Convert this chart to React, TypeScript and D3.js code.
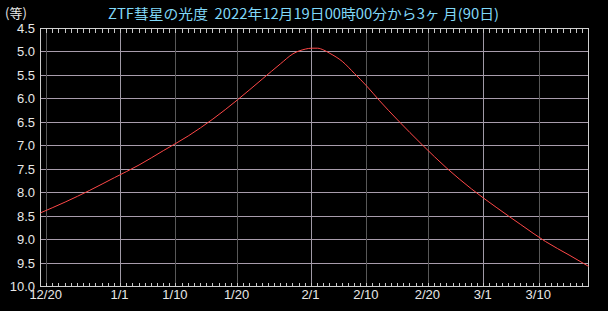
import React from "react";
import * as d3 from "d3";

const titleText = "ZTF彗星の光度  2022年12月19日00時00分から3ヶ 月(90日)";
const unitLabel = "(等)";
const startDate = new Date(2022, 11, 19);
const endDate = new Date(2023, 2, 18);

const days = [0, 4, 8, 12, 16, 20, 24, 28, 32, 36, 39, 41, 43, 44, 45, 46, 47, 49, 51, 53, 55, 58, 62, 66, 70, 74, 78, 82, 86, 89];
const mags = [8.43, 8.2, 7.95, 7.68, 7.41, 7.1, 6.79, 6.43, 6.02, 5.58, 5.25, 5.04, 4.94, 4.92, 4.92, 4.96, 5.03, 5.2, 5.46, 5.73, 6.03, 6.45, 6.98, 7.48, 7.92, 8.31, 8.68, 9.04, 9.34, 9.57];

const yTicks = [4.5, 5.0, 5.5, 6.0, 6.5, 7.0, 7.5, 8.0, 8.5, 9.0, 9.5, 10.0];
const xTickLabels = ["12/20", "1/1", "1/10", "1/20", "2/1", "2/10", "2/20", "3/1", "3/10"];
const xTickDates = [
  new Date(2022, 11, 20),
  new Date(2023, 0, 1),
  new Date(2023, 0, 10),
  new Date(2023, 0, 20),
  new Date(2023, 1, 1),
  new Date(2023, 1, 10),
  new Date(2023, 1, 20),
  new Date(2023, 2, 1),
  new Date(2023, 2, 10),
];

const W = 608;
const H = 311;
const L = 40.5, R = 588.5, T = 28.5, B = 286.5;

export default function App() {
  const x = d3.scaleTime().domain([startDate, endDate]).range([L, R]);
  const y = d3.scaleLinear().domain([4.5, 10]).range([T, B]);
  const snap = (v: number) => Math.round(v - 0.5) + 0.5;

  const pts = days.map((d, i) => ({ date: d3.timeDay.offset(startDate, d), m: mags[i] }));
  const line = d3
    .line<{ date: Date; m: number }>()
    .x((p) => x(p.date))
    .y((p) => y(p.m))
    .curve(d3.curveMonotoneX);

  const dayTicks = d3.timeDay.range(d3.timeDay.offset(startDate, 1), endDate);

  const labelFont = "'Liberation Sans', Arial, sans-serif";

  return (
    <div style={{ position: "fixed", left: 0, top: 0, width: W, height: H, background: "#000" }}>
      <svg width={W} height={H} style={{ display: "block", background: "#000" }}>
        <rect x={0} y={0} width={W} height={H} fill="#000" />
        {yTicks.slice(1, -1).map((t) => (
          <line key={"h" + t} x1={L} x2={R} y1={snap(y(t))} y2={snap(y(t))} stroke="#a89cac" strokeWidth={1} shapeRendering="crispEdges" />
        ))}
        {xTickDates.map((d, i) => (
          <line
            key={"v" + i}
            x1={snap(x(d))}
            x2={snap(x(d))}
            y1={T}
            y2={B}
            stroke={d.getDate() === 1 ? "#a09aa6" : "#585858"}
            strokeWidth={1}
            shapeRendering="crispEdges"
          />
        ))}
        {dayTicks.map((d, i) => (
          <g key={"t" + i}>
            <line x1={snap(x(d))} x2={snap(x(d))} y1={T} y2={T + 4} stroke="#c8c8c8" shapeRendering="crispEdges" />
            <line x1={snap(x(d))} x2={snap(x(d))} y1={B - 4} y2={B} stroke="#c8c8c8" shapeRendering="crispEdges" />
          </g>
        ))}
        <rect x={L} y={T} width={R - L} height={B - T} fill="none" stroke="#d0d0d0" strokeWidth={1} shapeRendering="crispEdges" />
        <path d={line(pts) || ""} fill="none" stroke="#ff4848" strokeWidth={1} />
        {yTicks.map((t) => (
          <text key={"yl" + t} x={35} y={y(t) + 4.5} textAnchor="end" fontSize={13} fontFamily={labelFont} fill="#e8e8e8">
            {t.toFixed(1)}
          </text>
        ))}
        {xTickDates.map((d, i) => (
          <text key={"xl" + i} x={x(d) - 1} y={299} textAnchor="middle" fontSize={13} fontFamily={labelFont} fill="#e8e8e8">
            {xTickLabels[i]}
          </text>
        ))}
        <text x={5} y={18} fontSize={13} fontFamily="'Noto Sans CJK JP', sans-serif" fill="#e8e8e8">
          {unitLabel}
        </text>
        <text
          x={108}
          y={19}
          fontSize={14}
          fontFamily="'Noto Sans CJK JP', sans-serif"
          fill="#80d8f8"
          textLength={391}
          lengthAdjust="spacingAndGlyphs"
          style={{ whiteSpace: "pre" }}
        >
          {titleText}
        </text>
      </svg>
    </div>
  );
}
